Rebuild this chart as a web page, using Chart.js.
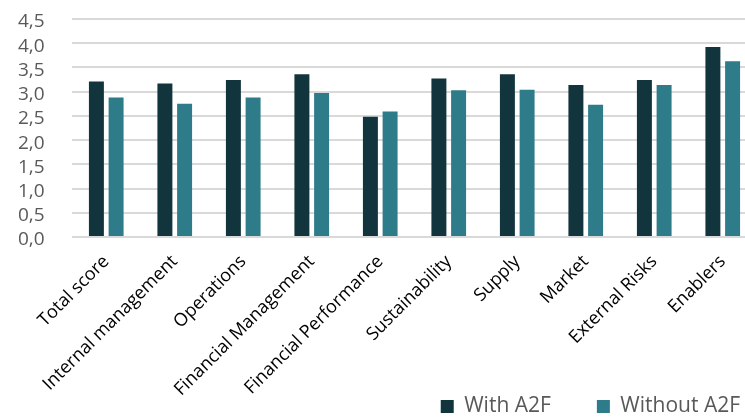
<!DOCTYPE html>
<html>
<head>
<meta charset="utf-8">
<script src="https://cdn.jsdelivr.net/npm/chart.js@4/dist/chart.umd.min.js"></script>
<style>
  html, body { margin: 0; padding: 0; background: #fff; }
  #wrap { width: 745px; height: 417px; }
</style>
</head>
<body>
<div id="wrap"><canvas id="scoreChart" width="745" height="417"></canvas></div>
<script>
// Категории и значения
const categories = [
  'Total score', 'Internal management', 'Operations', 'Financial Management',
  'Financial Performance', 'Sustainability', 'Supply', 'Market',
  'External Risks', 'Enablers'
];
const withA2F = [3.21, 3.17, 3.24, 3.36, 2.48, 3.27, 3.36, 3.14, 3.24, 3.92];
const withoutA2F = [2.88, 2.75, 2.88, 2.97, 2.59, 3.03, 3.04, 2.73, 3.14, 3.63];
const seriesNames = ['With A2F', 'Without A2F'];

const FONT = "'Open Sans', 'Noto Sans', sans-serif";
const PLOT_RIGHT = 757; // область графика уходит чуть за правый край холста

// после раскладки: растягиваем ось X вправо, двигаем легенду,
// подписи оси X не обрезаем по её блоку
const layoutFix = {
  id: 'layoutFix',
  afterLayout(chart) {
    const area = chart.chartArea;
    const x = chart.scales.x;
    area.right = PLOT_RIGHT;
    area.width = area.right - area.left;
    x.right = PLOT_RIGHT;
    x.width = x.right - x.left;
    x.configure();
    x.bottom = chart.height;

    const lg = chart.legend;
    if (lg) {
      lg.left += 41; lg.right += 41;
      lg.top += 10; lg.bottom += 10;
    }
  }
};

const ctx = document.getElementById('scoreChart').getContext('2d');

new Chart(ctx, {
  type: 'bar',
  data: {
    labels: categories,
    datasets: [
      { label: seriesNames[0], data: withA2F, backgroundColor: '#12343c' },
      { label: seriesNames[1], data: withoutA2F, backgroundColor: '#2e7b8a' }
    ]
  },
  plugins: [layoutFix],
  options: {
    responsive: false,
    animation: false,
    devicePixelRatio: 1,
    layout: { padding: { top: 19, right: 0, bottom: 0, left: 18 } },
    datasets: {
      bar: { categoryPercentage: 0.575, barPercentage: 0.76 }
    },
    plugins: {
      tooltip: { enabled: false },
      legend: {
        position: 'bottom',
        align: 'end',
        labels: {
          boxWidth: 13,
          boxHeight: 13,
          padding: 46,
          color: '#595959',
          font: { family: FONT, size: 21 }
        }
      }
    },
    scales: {
      x: {
        grid: { display: false },
        border: { display: false },
        ticks: {
          autoSkip: false,
          maxRotation: 45,
          minRotation: 45,
          color: '#000',
          padding: 6,
          font: { family: FONT, size: 18 }
        },
        afterFit: scale => { scale.height = 103; }
      },
      y: {
        min: 0,
        max: 4.5,
        border: { display: false },
        grid: { color: '#d9d9d9', lineWidth: 2, drawTicks: false },
        ticks: {
          autoSkip: false,
          stepSize: 0.5,
          crossAlign: 'far',
          padding: 0,
          labelOffset: 3,
          color: '#595959',
          font: { family: FONT, size: 19 },
          callback: v => v.toFixed(1).replace('.', ',')
        },
        afterFit: scale => { scale.width = 54; }
      }
    }
  }
});
</script>
</body>
</html>
